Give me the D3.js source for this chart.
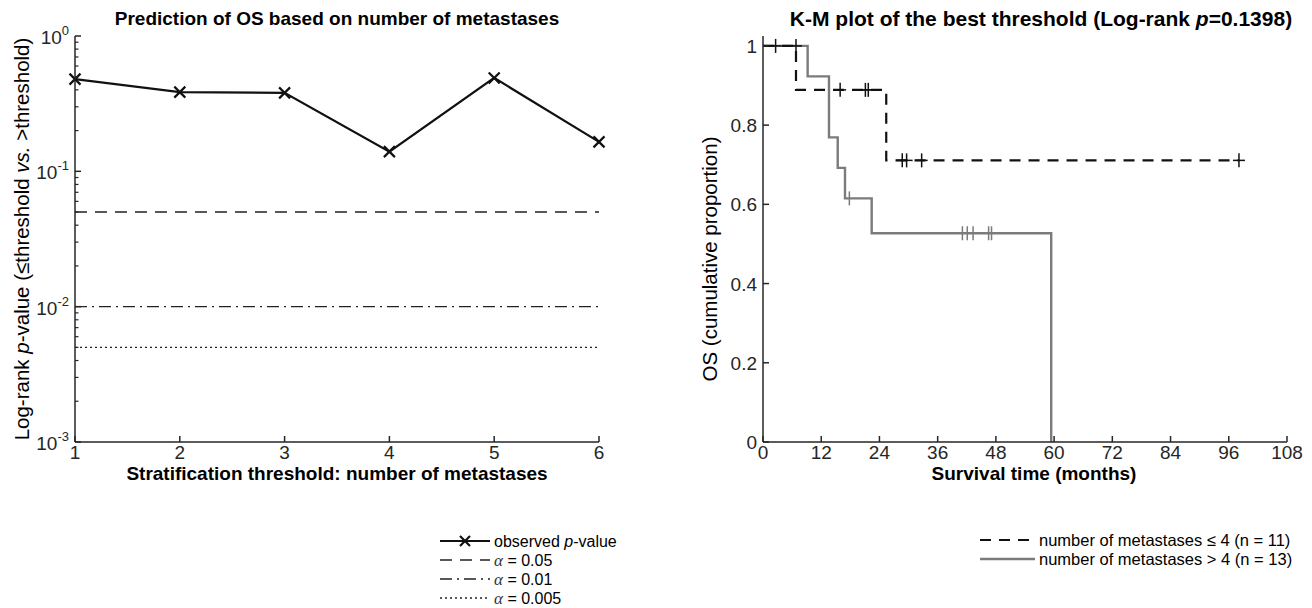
<!DOCTYPE html>
<html><head><meta charset="utf-8">
<script src="https://cdn.jsdelivr.net/npm/d3@7"></script>
<style>
body{margin:0;background:#fff;}
svg{font-family:"Liberation Sans",Arial,sans-serif;}
</style></head>
<body><svg id="c" width="1312" height="608"></svg>
<script>
// ---------- data ----------
const thresholds = [1, 2, 3, 4, 5, 6];
const pValues = [0.48, 0.385, 0.38, 0.1398, 0.49, 0.165];
const alphaLevels = [0.05, 0.01, 0.005];
const alphaLabels = ["0.05", "0.01", "0.005"];
const leftYTickExp = [-3, -2, -1, 0];

const km1Time = [0, 6.8, 25.4, 98.1];
const km1Surv = [1, 0.889, 0.711, 0.711];
const km1CensorTime = [2.6, 6.8, 15.9, 21.1, 21.7, 28.7, 29.6, 32.7, 98.1];
const km1CensorSurv = [1, 1, 0.889, 0.889, 0.889, 0.711, 0.711, 0.711, 0.711];
const km2Time = [0, 9.2, 13.6, 15.4, 16.9, 22.4, 59.4];
const km2Surv = [1, 0.923, 0.769, 0.692, 0.615, 0.527, 0];
const km2CensorTime = [17.8, 41.1, 42.1, 43.3, 46.5, 47.1];
const km2CensorSurv = [0.615, 0.527, 0.527, 0.527, 0.527, 0.527];
const kmXTicks = [0, 12, 24, 36, 48, 60, 72, 84, 96, 108];
const kmYTicks = [0, 0.2, 0.4, 0.6, 0.8, 1];
const kmYTickLabels = ["0", "0.2", "0.4", "0.6", "0.8", "1"];
const groupLabels = ["number of metastases \u2264 4 (n = 11)", "number of metastases > 4 (n = 13)"];

// ---------- setup ----------
const svg = d3.select("#c");
const AX = "#262626";
const GRAY = "#7b7b7b";
const tickFont = 19;
const yLabFont = 20.5;
const legFont = 16;

// ===== LEFT PLOT =====
const L = {x0: 75, x1: 599, y0: 442, y1: 36};
const xL = d3.scaleLinear().domain([1, 6]).range([L.x0, L.x1]);
const yL = d3.scaleLog().domain([1e-3, 1]).range([L.y0, L.y1]);
const gL = svg.append("g");

const alphaDash = ["12,8", "12,5,2,5", "2,3"];
alphaLevels.forEach((a, i) => {
  gL.append("line").attr("x1", xL(1)).attr("x2", xL(6))
    .attr("y1", yL(a)).attr("y2", yL(a))
    .attr("stroke", "#222").attr("stroke-width", 1.4)
    .attr("stroke-dasharray", alphaDash[i]);
});
const lineL = d3.line().x((d, i) => xL(thresholds[i])).y(d => yL(d));
gL.append("path").datum(pValues).attr("d", lineL)
  .attr("fill", "none").attr("stroke", "#111").attr("stroke-width", 2.2);
function xMark(g, cx, cy, r) {
  g.append("path").attr("d", `M${cx-r},${cy-r}L${cx+r},${cy+r}M${cx-r},${cy+r}L${cx+r},${cy-r}`)
    .attr("stroke", "#111").attr("stroke-width", 2.2).attr("fill", "none");
}
pValues.forEach((p, i) => xMark(gL, xL(thresholds[i]), yL(p), 5.5));

gL.append("line").attr("x1", L.x0).attr("x2", L.x1).attr("y1", L.y0).attr("y2", L.y0).attr("stroke", AX).attr("stroke-width", 1.5);
gL.append("line").attr("x1", L.x0).attr("x2", L.x0).attr("y1", L.y0).attr("y2", L.y1).attr("stroke", AX).attr("stroke-width", 1.5);
thresholds.forEach(t => {
  gL.append("line").attr("x1", xL(t)).attr("x2", xL(t)).attr("y1", L.y0).attr("y2", L.y0 - 6).attr("stroke", AX).attr("stroke-width", 1.5);
  gL.append("text").attr("x", xL(t)).attr("y", L.y0 + 17).attr("text-anchor", "middle")
    .attr("font-size", tickFont).attr("fill", AX).text(t);
});
leftYTickExp.forEach(e => {
  const v = Math.pow(10, e);
  gL.append("line").attr("x1", L.x0).attr("x2", L.x0 + 6).attr("y1", yL(v)).attr("y2", yL(v)).attr("stroke", AX).attr("stroke-width", 1.5);
  const t = gL.append("text").attr("x", L.x0 - 6).attr("y", yL(v) + 8).attr("text-anchor", "end")
    .attr("font-size", tickFont).attr("fill", AX);
  t.append("tspan").text("10");
  t.append("tspan").attr("dy", -9).attr("font-size", 13).text(String(e));
  if (e < 0) {
    for (let m = 2; m <= 9; m++) {
      const mv = m * v;
      gL.append("line").attr("x1", L.x0).attr("x2", L.x0 + 3.5).attr("y1", yL(mv)).attr("y2", yL(mv)).attr("stroke", AX).attr("stroke-width", 1.2);
    }
  }
});
gL.append("text").attr("x", (L.x0 + L.x1) / 2).attr("y", 25).attr("text-anchor", "middle")
  .attr("font-size", 19).attr("font-weight", "bold").attr("fill", "#000")
  .text("Prediction of OS based on number of metastases");
gL.append("text").attr("x", (L.x0 + L.x1) / 2).attr("y", 480).attr("text-anchor", "middle")
  .attr("font-size", 19).attr("font-weight", "bold").attr("fill", "#000")
  .text("Stratification threshold: number of metastases");
{
  const t = gL.append("text").attr("transform", "translate(29,239) rotate(-90)").attr("text-anchor", "middle")
    .attr("font-size", yLabFont).attr("fill", "#000");
  t.append("tspan").text("Log-rank ");
  t.append("tspan").attr("font-style", "italic").text("p");
  t.append("tspan").text("-value (\u2264threshold ");
  t.append("tspan").attr("font-style", "italic").text("vs.");
  t.append("tspan").text(" >threshold)");
}
{
  const lx0 = 440, lx1 = 490, tx = 494, rows = [541, 560, 579, 598];
  gL.append("line").attr("x1", lx0).attr("x2", lx1).attr("y1", rows[0]).attr("y2", rows[0]).attr("stroke", "#111").attr("stroke-width", 2.2);
  xMark(gL, (lx0 + lx1) / 2, rows[0], 5);
  const t0 = gL.append("text").attr("x", tx).attr("y", rows[0] + 5.5).attr("font-size", legFont).attr("fill", "#000");
  t0.append("tspan").text("observed ");
  t0.append("tspan").attr("font-style", "italic").text("p");
  t0.append("tspan").text("-value");
  alphaLevels.forEach((a, i) => {
    const y = rows[i + 1];
    gL.append("line").attr("x1", lx0).attr("x2", lx1).attr("y1", y).attr("y2", y)
      .attr("stroke", "#222").attr("stroke-width", 1.4).attr("stroke-dasharray", alphaDash[i]);
    const t = gL.append("text").attr("x", tx).attr("y", y + 5.5).attr("font-size", legFont).attr("fill", "#000");
    t.append("tspan").attr("font-family", "Liberation Serif, serif").attr("font-style", "italic").attr("font-size", 17).attr("fill", "#333").text("\u03b1");
    t.append("tspan").text(" = " + alphaLabels[i]);
  });
}

// ===== RIGHT PLOT =====
const R = {x0: 763, x1: 1287, y0: 442, y1: 36};
const xR = d3.scaleLinear().domain([0, 108]).range([R.x0, R.x1]);
const yR = d3.scaleLinear().domain([0, 1.025]).range([R.y0, R.y1]);
const gR = svg.append("g");
const stepLine = d3.line().curve(d3.curveStepAfter).x(d => xR(d[0])).y(d => yR(d[1]));

gR.append("path").datum(km2Time.map((t, i) => [t, km2Surv[i]])).attr("d", stepLine)
  .attr("fill", "none").attr("stroke", GRAY).attr("stroke-width", 2.4);
gR.append("path").datum(km1Time.map((t, i) => [t, km1Surv[i]])).attr("d", stepLine)
  .attr("fill", "none").attr("stroke", "#111").attr("stroke-width", 2.2).attr("stroke-dasharray", "11,8");
km2CensorTime.forEach((t, i) => {
  gR.append("line").attr("x1", xR(t)).attr("x2", xR(t)).attr("y1", yR(km2CensorSurv[i]) - 7).attr("y2", yR(km2CensorSurv[i]) + 7)
    .attr("stroke", GRAY).attr("stroke-width", 1.5);
});
km1CensorTime.forEach((t, i) => {
  gR.append("line").attr("x1", xR(t)).attr("x2", xR(t)).attr("y1", yR(km1CensorSurv[i]) - 7).attr("y2", yR(km1CensorSurv[i]) + 7)
    .attr("stroke", "#111").attr("stroke-width", 1.5);
  gR.append("line").attr("x1", xR(t) - 6).attr("x2", xR(t) + 6).attr("y1", yR(km1CensorSurv[i])).attr("y2", yR(km1CensorSurv[i]))
    .attr("stroke", "#111").attr("stroke-width", 1.5);
});
gR.append("line").attr("x1", R.x0).attr("x2", R.x1).attr("y1", R.y0).attr("y2", R.y0).attr("stroke", AX).attr("stroke-width", 1.5);
gR.append("line").attr("x1", R.x0).attr("x2", R.x0).attr("y1", R.y0).attr("y2", R.y1).attr("stroke", AX).attr("stroke-width", 1.5);
kmXTicks.forEach(t => {
  gR.append("line").attr("x1", xR(t)).attr("x2", xR(t)).attr("y1", R.y0).attr("y2", R.y0 - 6).attr("stroke", AX).attr("stroke-width", 1.5);
  gR.append("text").attr("x", xR(t)).attr("y", R.y0 + 17).attr("text-anchor", "middle")
    .attr("font-size", tickFont).attr("fill", AX).text(t);
});
kmYTicks.forEach((v, i) => {
  gR.append("line").attr("x1", R.x0).attr("x2", R.x0 + 6).attr("y1", yR(v)).attr("y2", yR(v)).attr("stroke", AX).attr("stroke-width", 1.5);
  gR.append("text").attr("x", R.x0 - 6).attr("y", yR(v) + 7).attr("text-anchor", "end")
    .attr("font-size", tickFont).attr("fill", AX).text(kmYTickLabels[i]);
});
{
  const t = gR.append("text").attr("x", 1041).attr("y", 26).attr("text-anchor", "middle")
    .attr("font-size", 21).attr("font-weight", "bold").attr("fill", "#000");
  t.append("tspan").text("K-M plot of the best threshold (Log-rank ");
  t.append("tspan").attr("font-style", "italic").text("p");
  t.append("tspan").text("=0.1398)");
}
gR.append("text").attr("x", 1034).attr("y", 480).attr("text-anchor", "middle")
  .attr("font-size", 19).attr("font-weight", "bold").attr("fill", "#000").text("Survival time (months)");
gR.append("text").attr("transform", "translate(717,259) rotate(-90)").attr("text-anchor", "middle")
  .attr("font-size", yLabFont).attr("fill", "#000").text("OS (cumulative proportion)");
{
  const lx0 = 980, lx1 = 1035, tx = 1039, rows = [540, 559];
  gR.append("line").attr("x1", lx0).attr("x2", lx1).attr("y1", rows[0]).attr("y2", rows[0])
    .attr("stroke", "#111").attr("stroke-width", 2.2).attr("stroke-dasharray", "11,8");
  gR.append("line").attr("x1", lx0).attr("x2", lx1).attr("y1", rows[1]).attr("y2", rows[1])
    .attr("stroke", GRAY).attr("stroke-width", 2.4);
  groupLabels.forEach((s, i) => {
    gR.append("text").attr("x", tx).attr("y", rows[i] + 5.5).attr("font-size", 16.5).attr("fill", "#000").text(s);
  });
}
</script></body></html>
